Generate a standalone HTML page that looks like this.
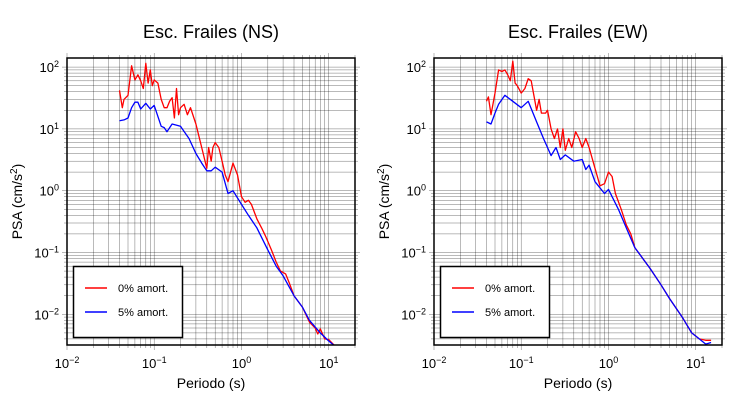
<!DOCTYPE html>
<html><head><meta charset="utf-8"><style>
html,body{margin:0;padding:0;background:#fff;}
svg{display:block;font-family:"Liberation Sans",sans-serif;}
</style></head><body>
<svg id="s" width="730" height="400" xmlns="http://www.w3.org/2000/svg">
<rect width="730" height="400" fill="#fff"/>
</svg>
<script>
const S=document.getElementById('s');
function el(t,a,txt){const e=document.createElementNS('http://www.w3.org/2000/svg',t);for(const k in a)e.setAttribute(k,a[k]);if(txt!==undefined)e.innerHTML=txt;S.appendChild(e);return e;}
const Y0=58,Y1=345;
function ym(v){return 190.7-61.8*Math.log10(v);}
function panel(L,R,title,red,blue){
  const dec=(R-L)/Math.log10(2000);
  const xm=v=>L+dec*(Math.log10(v)+2);
  let g='';
  for(let d=-2;d<=1;d++)for(let m=1;m<=9;m++){const v=m*Math.pow(10,d);if(v>20)break;const x=xm(v);
    if(x>L+0.5&&x<R-0.5)g+=`M${x.toFixed(1)} ${Y0}V${Y1}`;
    g+=`M${x.toFixed(1)} ${Y1}v${m==1?5:3}M${x.toFixed(1)} ${Y0}v${m==1?-5:-3}`;}
  for(let d=-3;d<=2;d++)for(let m=1;m<=9;m++){const v=m*Math.pow(10,d);const y=ym(v);if(y<Y0||y>Y1)continue;
    g+=`M${L} ${y.toFixed(1)}H${R}`;
    g+=`M${L} ${y.toFixed(1)}h${m==1?-5:-3}M${R} ${y.toFixed(1)}h${m==1?5:3}`;}
  el('path',{d:g,stroke:'#000','stroke-width':0.5,'stroke-opacity':0.55,fill:'none'});
  const pl=(pts,c)=>el('polyline',{points:pts.map(p=>xm(p[0]).toFixed(1)+','+ym(p[1]).toFixed(1)).join(' '),fill:'none',stroke:c,'stroke-width':1.3,'stroke-linejoin':'round'});
  el('defs',{},`<clipPath id="c${L}"><rect x="${L}" y="${Y0}" width="${R-L}" height="${Y1-Y0}"/></clipPath>`);
  const gr=el('g',{'clip-path':`url(#c${L})`});
  [[red,'#ff0000'],[blue,'#0000ff']].forEach(([p,c])=>{const e=pl(p,c);gr.appendChild(e);});
  el('rect',{x:L,y:Y0,width:R-L,height:Y1-Y0,fill:'none',stroke:'#000','stroke-width':1.5});
  el('rect',{x:L+6.5,y:266.5,width:109,height:71,fill:'#fff',stroke:'#000','stroke-width':1.5});
  el('line',{x1:L+18,x2:L+40,y1:288,y2:288,stroke:'#ff0000','stroke-width':1.5});
  el('line',{x1:L+18,x2:L+40,y1:312,y2:312,stroke:'#0000ff','stroke-width':1.5});
  el('text',{x:L+51,y:292,'font-size':11},'0% amort.');
  el('text',{x:L+51,y:316,'font-size':11},'5% amort.');
  [-2,-1,0,1].forEach(d=>{el('text',{x:xm(Math.pow(10,d)),y:368,'font-size':13,'text-anchor':'middle'},`10<tspan dy="-5" font-size="9">${d<0?'−'+(-d):d}</tspan>`);});
  [2,1,0,-1,-2].forEach(d=>{el('text',{x:L-8,y:ym(Math.pow(10,d))+5,'font-size':13,'text-anchor':'end'},`10<tspan dy="-5" font-size="9">${d<0?'−'+(-d):d}</tspan>`);});
  el('text',{x:(L+R)/2,y:388,'font-size':14,'text-anchor':'middle'},'Periodo (s)');
  el('text',{x:0,y:0,'font-size':14,'text-anchor':'middle',transform:`translate(${L-45},${(Y0+Y1)/2}) rotate(-90)`},'PSA (cm/s<tspan dy="-5" font-size="10">2</tspan><tspan dy="5">)</tspan>');
  el('text',{x:(L+R)/2,y:38,'font-size':18,'text-anchor':'middle'},title);
}
const r1=[[0.04,42],[0.043,22],[0.045,30],[0.05,35],[0.055,105],[0.06,62],[0.065,75],[0.07,60],[0.075,45],[0.08,115],[0.085,55],[0.09,90],[0.095,50],[0.1,62],[0.11,55],[0.12,30],[0.13,22],[0.14,22],[0.15,28],[0.16,32],[0.17,15],[0.18,45],[0.19,17],[0.2,22],[0.22,25],[0.24,17],[0.26,22],[0.3,12],[0.35,5],[0.4,2.3],[0.42,5],[0.45,3],[0.47,5],[0.5,6],[0.55,5],[0.6,3],[0.65,1.8],[0.7,1.4],[0.75,2],[0.8,2.8],[0.9,1.8],[1.0,0.8],[1.1,0.65],[1.2,0.7],[1.3,0.6],[1.5,0.35],[1.7,0.25],[1.9,0.18],[2.2,0.11],[2.5,0.07],[2.8,0.05],[3.2,0.045],[3.6,0.03],[4,0.02],[5,0.013],[6,0.0075],[7,0.006],[7.5,0.0048],[8,0.0058],[9,0.004],[10,0.0039],[12,0.003]];
const b1=[[0.04,13.5],[0.045,14],[0.05,15],[0.055,22],[0.06,27],[0.065,27],[0.07,21],[0.08,26],[0.09,21],[0.1,24],[0.12,11],[0.13,10.5],[0.14,9],[0.16,12],[0.2,11],[0.25,7],[0.3,4],[0.35,2.8],[0.4,2.1],[0.45,2.1],[0.5,2.4],[0.6,2],[0.7,0.9],[0.8,1],[1,0.6],[1.2,0.4],[1.5,0.25],[2,0.11],[2.5,0.06],[3,0.042],[4,0.02],[5,0.013],[6,0.008],[8,0.005],[10,0.0037],[12,0.003]];
const r2=[[0.04,28],[0.042,33],[0.045,17],[0.05,38],[0.055,90],[0.06,85],[0.065,90],[0.07,75],[0.075,60],[0.08,125],[0.085,55],[0.09,50],[0.1,38],[0.11,45],[0.12,65],[0.13,60],[0.15,20],[0.16,30],[0.17,18],[0.19,18],[0.2,20],[0.22,10],[0.24,7],[0.26,10],[0.28,5],[0.3,10],[0.32,4.5],[0.35,7],[0.38,5],[0.42,9],[0.46,7],[0.5,5],[0.55,7],[0.6,5],[0.7,2.3],[0.8,1.2],[0.9,1.3],[1,2],[1.1,1.7],[1.2,0.9],[1.4,0.5],[1.6,0.28],[1.8,0.2],[2,0.12],[3,0.055],[4,0.03],[5,0.018],[7,0.009],[9,0.005],[11,0.004],[13,0.0038],[15,0.0038]];
const b2=[[0.04,13],[0.045,12],[0.05,18],[0.055,25],[0.065,35],[0.08,28],[0.1,22],[0.12,28],[0.15,13],[0.18,7],[0.22,3.7],[0.25,5],[0.28,3.2],[0.32,3.8],[0.4,3],[0.5,3.2],[0.55,2.2],[0.6,2.6],[0.7,1.4],[0.9,0.9],[1,1.05],[1.3,0.5],[1.6,0.25],[2,0.12],[3,0.055],[4,0.03],[5,0.018],[7,0.009],[9,0.005],[11,0.004],[13,0.0033],[15,0.0035]];
panel(67,355,'Esc. Frailes (NS)',r1,b1);
panel(434,722,'Esc. Frailes (EW)',r2,b2);
</script>
</body></html>
